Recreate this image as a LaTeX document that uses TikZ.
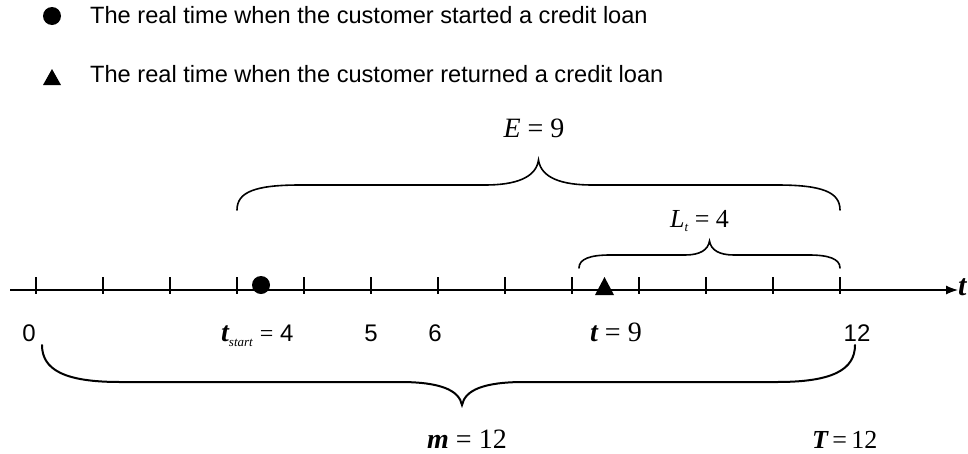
\documentclass[tikz,border=0pt]{standalone}
\usepackage{fontspec}
\setmainfont{Liberation Sans}
\newfontfamily\tms{Liberation Serif}
\usetikzlibrary{arrows.meta}
\begin{document}
\begin{tikzpicture}[x=1pt,y=-1pt,
  lbl/.style={inner sep=0pt, anchor=base, font=\fontsize{24}{24}\selectfont},
  mth/.style={inner sep=0pt, anchor=base, font=\fontsize{28}{28}\selectfont\tms},
  legtext/.style={inner sep=0pt, anchor=base west, font=\fontsize{23.6}{24}\selectfont},
  bracepath/.style={line width=1.6pt, line cap=round},
  tickmark/.style={line width=1.2pt},
  dotmark/.style={circle, fill=black, inner sep=0pt, minimum size=18pt},
]
\useasboundingbox[fill=white] (0,0) rectangle (968,453);

% legend
\node[dotmark] (legdot) at (52,16) {};
\node[legtext] (legA) at (90,23) {The real time when the customer started a credit loan};
\fill (43,85) -- (52,69) -- (61,85) -- cycle;
\node[legtext] (legB) at (90,82) {The real time when the customer returned a credit loan};

% axis
\coordinate (axs) at (10,290);
\coordinate (axe) at (958,290);
\draw[line width=1.2pt,-{Latex[length=12pt,width=9pt]}] (axs) -- (axe);
\node[mth, anchor=west, font=\fontsize{30}{30}\selectfont\tms\bfseries\itshape] (taxis) at (958,287) {t};
\foreach \i in {0,...,12}
  \draw[tickmark] ({36+67*\i},277) -- ({36+67*\i},294);

% markers
\node[dotmark] (startdot) at (261,285) {};
\fill (595,295) -- (604.5,277) -- (614,295) -- cycle;

% axis labels
\node[lbl] (l0) at (29,341) {0};
\node[lbl, anchor=base west] (lts) at (221,341) {{\fontsize{28}{28}\selectfont\tms\bfseries\itshape t}\raisebox{-5pt}{\fontsize{13}{13}\selectfont\tms\itshape start}\hspace{7pt}{\tms =} 4};
\node[lbl] (l5) at (371,341) {5};
\node[lbl] (l6) at (435,341) {6};
\node[mth, anchor=base west] (lt9) at (590,341) {{\bfseries\itshape t} = 9};
\node[lbl] (l12) at (857,341) {12};

% braces
\draw[bracepath] (237,210) .. controls (237,192) and (255,185) .. (300,185) -- (485,185)
  .. controls (515,185) and (536,178) .. (538.5,160)
  .. controls (541,178) and (562,185) .. (592,185) -- (777,185)
  .. controls (822,185) and (840,192) .. (840,210);
\node[mth] (E) at (534,137) {{\itshape E} = 9};

\draw[bracepath] (579,268) .. controls (579,259) and (590,255) .. (610,255) -- (685,255)
  .. controls (700,255) and (708,250) .. (709.5,241)
  .. controls (711,250) and (719,255) .. (734,255) -- (809,255)
  .. controls (829,255) and (840,259) .. (840,268);
\node[mth, anchor=base west, font=\fontsize{26}{26}\selectfont\tms] (L) at (670,227) {{\itshape L}\raisebox{-4pt}{\fontsize{13}{13}\selectfont\itshape t} = 4};

\draw[bracepath, line width=2pt] (42,345) .. controls (42,370) and (65,382) .. (120,382) -- (400,382)
  .. controls (440,382) and (459,390) .. (462,405)
  .. controls (465,390) and (484,382) .. (524,382) -- (777,382)
  .. controls (832,382) and (855,370) .. (855,345);
\node[mth, anchor=base west, text depth=0pt] (m) at (427,448) {{\bfseries\itshape m} = 12};
\node[mth, anchor=base west, text depth=0pt, font=\fontsize{26}{26}\selectfont\tms] (T) at (812,448) {{\bfseries\itshape T}\,=\,12};
\end{tikzpicture}
\end{document}
